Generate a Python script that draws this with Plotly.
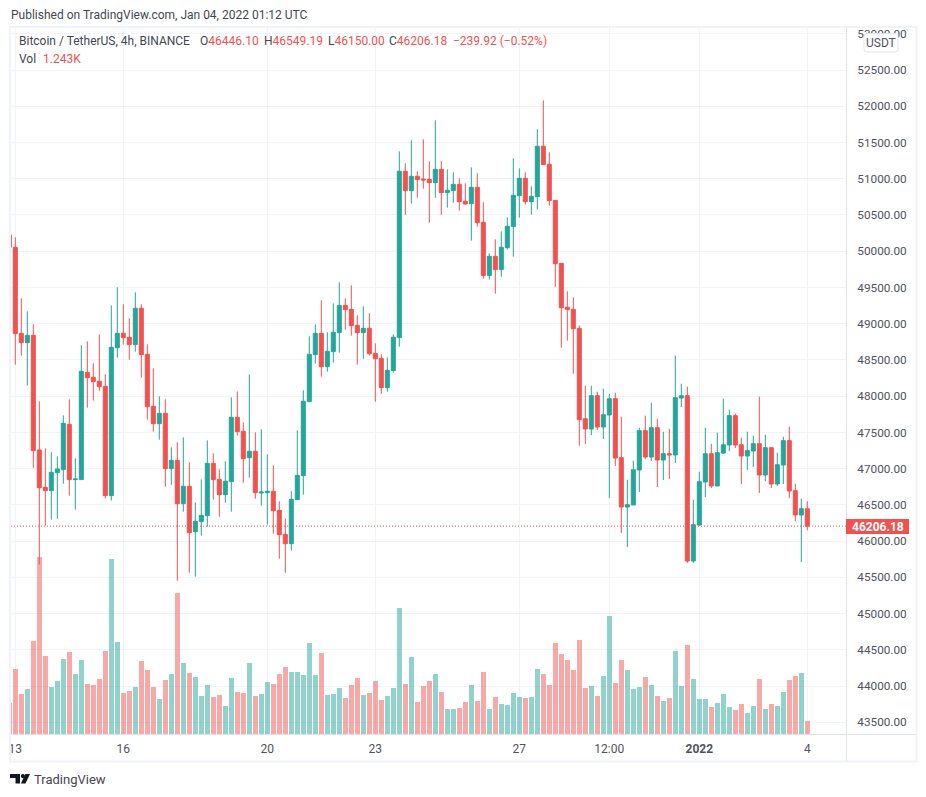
import plotly.graph_objects as go

# ---- data ----
bar_index = list(range(134))
opens = [50224,50054,48867,48738,48839,47257,46742,46696,46944,46986,47611,46848,46848,48329,48260,48205,48136,46627,48669,
48867,48812,48711,49212,48577,47860,47620,47763,47000,47114,46516,46756,46130,46268,46351,47073,46852,46641,46820,47708,
47515,47151,47239,46664,46668,46687,46424,46093,45964,46572,46903,47924,48573,48867,48407,48614,48876,49253,49198,48977,
48876,48936,48591,48522,48117,48352,48807,51103,50836,51034,50997,50992,50946,51130,50808,50836,50923,50689,50656,50882,
50399,49663,49930,49746,50049,50339,50767,51006,50684,50753,51448,51199,50702,49833,49226,49198,48936,47689,47547,48007,
47574,47740,47965,47151,46470,46498,46981,47524,47160,47565,47119,47206,47188,47974,48007,45725,46222,46815,47206,46760,
47215,47326,47731,47330,47174,47243,47344,46912,47289,46788,47050,47386,46696,46360,46446.10]
highs = [50224,50192,49350,49171,48991,47929,47280,47225,47170,47735,47956,47142,48701,48757,48453,48853,48301,49253,49502,
49267,49074,49433,49267,48715,48384,47998,47956,47294,47363,47432,47087,46535,46852,47390,47211,46990,47101,47984,48067,
47639,48301,47501,47542,47197,47045,46549,46314,46687,47528,48081,48826,48991,49322,48881,49281,49571,49350,49529,49115,
49240,49143,48729,48577,48536,48853,51379,51213,51530,51103,51544,51241,51806,51241,51130,51089,51006,50937,51158,51075,
50675,49971,50164,50275,50468,51282,51144,51089,50896,51682,52082,51365,50702,49833,49447,49364,48977,48145,48145,48062,
48103,48034,48048,47717,46847,47110,47565,47731,47910,47689,47510,47551,48559,48172,48131,46571,46958,47565,47344,47496,
47965,47813,47758,47427,47510,47455,47993,47468,47289,47220,47441,47579,46792,46585,46549.19]
lows = [50054,48435,48559,48145,47013,45675,46213,46296,46309,46792,46627,46434,46848,47841,47938,48076,46585,46558,48531,
48711,48504,48614,48255,47676,47510,47400,46751,46779,45454,46406,45564,45509,46075,46199,46572,46337,46530,46406,47455,
46806,46875,46585,46489,46227,46102,45757,45564,45868,46572,46641,47924,48448,48269,48338,48462,48600,48918,48835,48435,
48517,48559,47924,48034,48062,48324,48683,50505,50656,50739,50863,50394,50739,50505,50601,50670,50560,50643,50146,50339,
49621,49608,49414,49649,50022,49925,50463,50643,50505,50574,51195,50629,49511,48669,48766,48310,47317,47340,47464,47533,
47409,46594,47036,46111,45918,46498,46677,47133,47105,46746,46843,46857,47077,47850,45697,45697,46208,46608,46732,46760,
47202,47243,47284,46788,46981,47022,46663,46829,46732,46760,46788,46594,46277,45711,46150.00]
closes = [50054,48862,48738,48839,47248,46737,46696,46949,46995,47625,46848,46857,48343,48255,48200,48131,46627,48674,48867,
48807,48711,49212,48573,47855,47620,47763,47000,47114,46516,46756,46116,46273,46355,47073,46848,46641,46825,47708,47510,
47137,47239,46668,46677,46687,46420,46089,45964,46576,46907,47929,48577,48867,48407,48619,48881,49253,49194,48973,48876,
48936,48586,48517,48117,48356,48812,51103,50836,51034,50988,50983,50946,51130,50808,50840,50923,50684,50652,50882,50394,
49663,49930,49746,50054,50344,50771,51006,50684,50758,51448,51195,50698,49828,49221,49194,48931,47676,47547,48007,47574,
47744,47965,47146,46470,46502,46985,47524,47160,47565,47119,47206,47188,47979,48007,45725,46226,46820,47206,46760,47220,
47330,47731,47326,47174,47248,47344,46912,47289,46788,47054,47386,46691,46360,46447,46206.18]
volumes = [2883,6045,3720,4185,8649,16461,7254,4371,4929,6975,7626,5580,6882,4650,4557,5115,7719,16275,8556,3813,3999,4371,
6789,5952,4371,3255,5022,5580,13113,6603,5673,5301,3534,4557,3441,3627,2604,5208,3906,3813,6603,3534,3720,4836,4650,5580,
6231,5766,5766,5518,8494,5518,7564,3658,3751,4309,3379,4588,5239,3658,3844,4960,3193,3565,4309,11749,4681,7192,3007,4495,
4960,5611,3937,2356,2356,2449,3007,4588,3100,5797,2356,3472,2821,2728,3844,3472,3379,3472,6076,5611,4588,8494,7471,6913,
5983,8773,4309,4495,3565,5425,11005,4774,6913,5983,4216,4402,5332,4588,3565,3100,3379,7750,4495,8308,5146,3286,3286,2542,
2914,3751,2542,2263,2821,1984,2635,5146,2356,2821,2635,3937,5053,5425,5704,1243]
tick_index = [1, 19, 43, 61, 85, 100, 115, 133]
tick_labels = ["13", "16", "20", "23", "27", "12:00", "<b>2022</b>", "4"]
price_ticks = [43500 + 500 * i for i in range(20)]
last_price = 46206.18

# ---- style ----
W, H = 926, 797
L, R, T, B = 11, 846, 27, 734
UP, DN = "#26a69a", "#ef5350"
UP_V, DN_V = "rgba(38,166,154,0.5)", "rgba(239,83,80,0.5)"
GRID = "#f0f3fa"
EDGE = "#e0e3eb"
FRAME = "#f0f3fa"
INK = "#50535e"
FONT = "Roboto"

# pixel position -> plot-area ("paper") fraction
def px(x): return (x - L) / (R - L)
def py(y): return (B - y) / (B - T)

vol_colors = [UP_V if c >= o else DN_V for o, c in zip(opens, closes)]

fig = go.Figure()
fig.add_trace(go.Bar(x=bar_index, y=volumes, marker=dict(color=vol_colors, line_width=0),
                     width=0.83, yaxis="y", hoverinfo="skip"))
fig.add_trace(go.Candlestick(
    x=bar_index, open=opens, high=highs, low=lows, close=closes, yaxis="y2",
    whiskerwidth=0,
    increasing=dict(line=dict(color=UP, width=1), fillcolor=UP),
    decreasing=dict(line=dict(color=DN, width=1), fillcolor=DN),
    hoverinfo="skip"))

shapes = []
def rect(x0, y0, x1, y1, fill=None, line=None, lw=0):
    shapes.append(dict(type="rect", xref="paper", yref="paper", x0=px(x0), x1=px(x1), y0=py(y0), y1=py(y1),
                       fillcolor=fill or "rgba(0,0,0,0)", line=dict(color=line or "rgba(0,0,0,0)", width=lw), layer="above"))
def hline(x0, y0, x1, y1, color, lw=1, dash="solid"):
    shapes.append(dict(type="line", xref="paper", yref="paper", x0=px(x0), x1=px(x1), y0=py(y0), y1=py(y1),
                       line=dict(color=color, width=lw, dash=dash), layer="above"))

# outer frame, pane dividers
rect(10, 27, 916.5, 761.5, line=FRAME, lw=2)
hline(11, 734.5, 916, 734.5, EDGE)
hline(846.5, 27, 846.5, 761, EDGE)
# last-price line (through the axes' own price scale)
shapes.append(dict(type="line", xref="paper", yref="y2", x0=px(L), x1=px(R), y0=last_price, y1=last_price,
                   line=dict(color=DN, width=1, dash="1px,2px"), layer="above"))
# price label box
rect(846, 519, 909, 534, fill=DN)

# USDT badge
def rounded(x0, y0, x1, y1, r):
    a, b, c, d = px(x0), px(x1), py(y0), py(y1)
    rx, ry = r / (R - L), r / (B - T)
    return (f"M{a+rx},{c} L{b-rx},{c} Q{b},{c} {b},{c-ry} L{b},{d+ry} Q{b},{d} {b-rx},{d} "
            f"L{a+rx},{d} Q{a},{d} {a},{d+ry} L{a},{c-ry} Q{a},{c} {a+rx},{c} Z")
shapes.append(dict(type="path", xref="paper", yref="paper", path=rounded(864, 33.5, 898, 52, 3),
                   fillcolor="white", line=dict(color=EDGE, width=1), layer="above"))

# TradingView logo mark
def poly(pts):
    return "M" + " L".join(f"{px(x)},{py(y)}" for x, y in pts) + " Z"
shapes.append(dict(type="path", xref="paper", yref="paper",
                   path=poly([(10, 774), (20, 774), (20, 783.5), (15.5, 783.5), (15.5, 778), (10, 778)]),
                   fillcolor="#131722", line_width=0, layer="above"))
shapes.append(dict(type="path", xref="paper", yref="paper",
                   path=poly([(25.5, 774), (30, 774), (25.5, 783.5), (20.8, 783.5)]),
                   fillcolor="#131722", line_width=0, layer="above"))
shapes.append(dict(type="circle", xref="paper", yref="paper", x0=px(20.8), x1=px(25), y0=py(778.2), y1=py(774),
                   fillcolor="#131722", line_width=0, layer="above"))

def note(x, y, text, size=12, color=INK, anchor="left"):
    return dict(x=px(x), y=py(y), xref="paper", yref="paper", text=text, showarrow=False, xanchor=anchor,
                yanchor="middle", align="left", font=dict(family=FONT, size=size, color=color))

red = lambda s: f'<span style="color:{DN}">{s}</span>'
HEAD = "#434651"
annotations = [
    note(9, 15, "Published on TradingView.com, Jan 04, 2022 01:12 UTC", 12, HEAD),
    note(17, 41, "Bitcoin / TetherUS, 4h, BINANCE", 12, HEAD),
    note(198, 41, "O" + red("46446.10"), 12, HEAD),
    note(262, 41, "H" + red("46549.19"), 12, HEAD),
    note(325.5, 41, "L" + red("46150.00"), 12, HEAD),
    note(387, 41, "C" + red("46206.18"), 12, HEAD),
    note(450.5, 41, red("−239.92 (−0.52%)"), 12, HEAD),
    note(17, 59, "Vol", 12, HEAD),
    note(40.5, 59, red("1.243K"), 12, HEAD),
    note(881, 43, "USDT", 12, INK, "center"),
    note(877.5, 526.5, "<b>46206.18</b>", 12, "white", "center"),
    note(32, 779.5, "TradingView", 13, HEAD),
]

fig.update_layout(
    width=W, height=H, margin=dict(l=L, r=W - R, t=T, b=H - B, pad=0, autoexpand=False),
    paper_bgcolor="white", plot_bgcolor="white", showlegend=False, bargap=0,
    boxgap=0.33, boxgroupgap=0,
    font=dict(family=FONT, size=12, color=INK),
    xaxis=dict(range=[0.283, 139.45], rangeslider=dict(visible=False), tickmode="array",
               tickvals=tick_index, ticktext=tick_labels, showgrid=True, gridcolor=GRID, gridwidth=1,
               zeroline=False, showline=False, ticks="outside", ticklen=4, tickcolor="rgba(0,0,0,0)",
               tickfont=dict(family=FONT, size=12, color=INK), tickangle=0),
    yaxis=dict(range=[0, 65770], visible=False, fixedrange=True),
    yaxis2=dict(range=[43338, 53094], overlaying="y", side="right", anchor="x", tickmode="array",
                tickvals=price_ticks, ticktext=[f"{v:.2f}" for v in price_ticks],
                showgrid=True, gridcolor=GRID, gridwidth=1, zeroline=False, showline=False,
                ticks="outside", ticklen=8, tickcolor="rgba(0,0,0,0)",
                tickfont=dict(family=FONT, size=11.75, color=INK)),
    shapes=shapes, annotations=annotations,
)

fig.write_html("out.html", config=dict(displayModeBar=False),
               post_script="document.body.style.margin='0';document.body.style.overflow='hidden';")
